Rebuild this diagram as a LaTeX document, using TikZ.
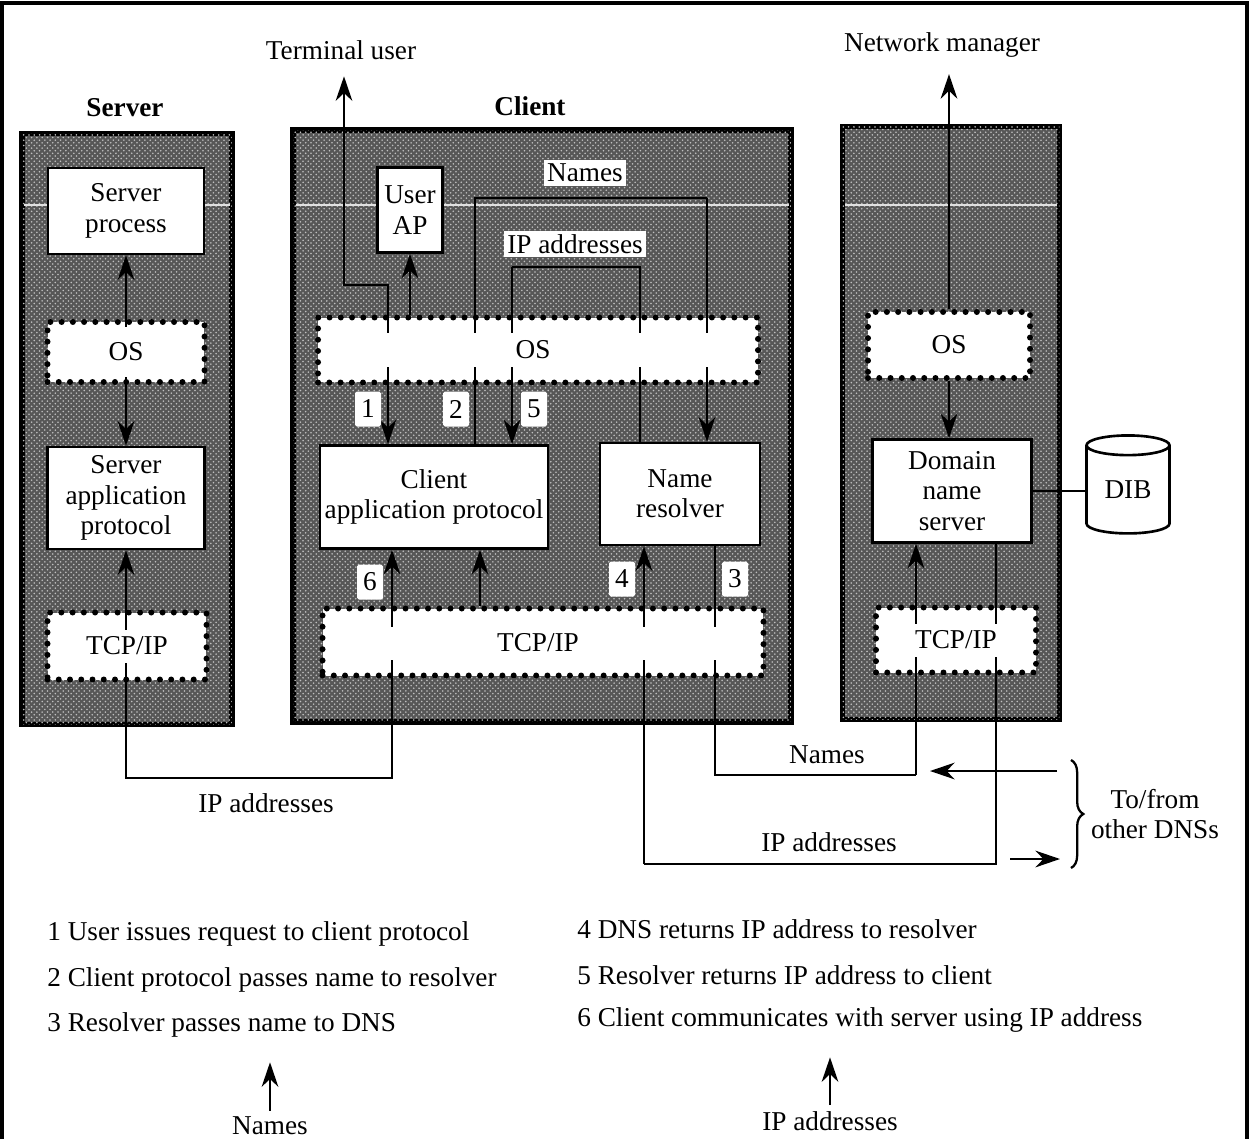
\documentclass[tikz,border=0pt]{standalone}
\usepackage{fontspec}
\setmainfont{Liberation Serif}
\usetikzlibrary{arrows.meta,positioning,calc,patterns,shapes.geometric,decorations.pathreplacing}

\begin{document}
\begin{tikzpicture}[x=0.02cm, y=-0.02cm, >={Stealth[length=14pt,width=9.5pt]},
  every node/.style={font=\fontsize{15.5}{17.3}\selectfont, align=center},
  panel/.style={draw, line width=3.2pt, fill=black!66, postaction={pattern=crosshatch dots, pattern color=white!75!black}},
  whitebox/.style={draw, line width=1.5pt, fill=white, inner sep=0pt},
  dotbox/.style={fill=white, draw, line width=3.4pt, line cap=round, dash pattern=on 0pt off 6.4pt},
  gaptext/.style={fill=white, inner sep=0pt, minimum height=0.66cm},
  numtag/.style={fill=white, inner sep=0pt, minimum width=0.52cm, minimum height=0.7cm, rounded corners=1pt},
  legend/.style={anchor=west, inner sep=0pt},
  wire/.style={line width=1.3pt},
  seam/.style={black!12, line width=0.6pt, shorten >=3pt, shorten <=3pt}]
  \useasboundingbox (0,0) rectangle (1250,1139);
  \draw[line width=2.4pt] (2,1139) -- (2,3) -- (1247,3) -- (1247,1139);

  % shaded blocks
  \node[panel, minimum width=4.2cm, minimum height=11.82cm] (srvpanel) at (127,429) {};
  \node[panel, minimum width=9.96cm, minimum height=11.84cm] (clipanel) at (542,426) {};
  \node[panel, minimum width=4.34cm, minimum height=11.86cm] (dnspanel) at (951,423) {};
  \draw[seam] (srvpanel.west |- 0,205) -- (srvpanel.east |- 0,205);
  \draw[seam] (clipanel.west |- 0,205) -- (clipanel.east |- 0,205);
  \draw[seam] (dnspanel.west |- 0,205) -- (dnspanel.east |- 0,205);
  \node[font=\fontsize{15.5}{17.3}\selectfont\bfseries] (srvtitle) at (125,108) {Server};
  \node[font=\fontsize{15.5}{17.3}\selectfont\bfseries] (clititle) at (530,106) {Client};

  % server
  \node[whitebox, minimum width=3.12cm, minimum height=1.72cm] (srvproc) at (126,211) {Server\\process};
  \node[dotbox, minimum width=3.14cm, minimum height=1.2cm] (srvos) at (126,352) {};
  \node[whitebox, minimum width=3.14cm, minimum height=2.04cm] (srvapp) at (126,498) {Server\\application\\protocol};
  \node[dotbox, minimum width=3.18cm, minimum height=1.34cm] (srvtcp) at (127,646) {};

  % client
  \node[whitebox, minimum width=1.3cm, minimum height=1.7cm] (userap) at (410,210) {User\\AP};
  \node[dotbox, minimum width=8.8cm, minimum height=1.3cm] (clios) at (538,350) {};
  \node[whitebox, minimum width=4.56cm, minimum height=2.06cm] (cliapp) at (434,497) {Client\\application protocol};
  \node[whitebox, minimum width=3.2cm, minimum height=2.04cm] (resolver) at (680,494) {Name\\resolver};
  \node[dotbox, minimum width=8.82cm, minimum height=1.34cm] (clitcp) at (543,642) {};

  % dns
  \node[dotbox, minimum width=3.24cm, minimum height=1.32cm] (dnsos) at (949,345) {};
  \node[whitebox, minimum width=3.18cm, minimum height=2.06cm] (dnsserver) at (952,491) {Domain\\name\\server};
  \node[dotbox, minimum width=3.2cm, minimum height=1.3cm] (dnstcp) at (956,640) {};
  \node[cylinder, shape border rotate=90, aspect=0.42, draw, line width=1.5pt, fill=white,
    minimum width=1.66cm, minimum height=1.96cm, inner sep=0pt] (dib) at (1128,490) {DIB};

  % outside labels
  \node (termuser) at (341,50) {Terminal user};
  \node (netman) at (942,45) {Network manager};
  \node[fill=white, inner sep=2pt] (namestag) at (585,173) {Names};
  \node[fill=white, inner sep=2pt] (iptag) at (575,244) {IP addresses};
  \node (namesrow) at (827,755) {Names};
  \node (iprow) at (829,842) {IP addresses};
  \node (ipsrv) at (266,803) {IP addresses};
  \node (tofrom) at (1155,814) {To/from\\other DNSs};

  % wire columns and rows
  \coordinate (xterm) at (344,0);
  \coordinate (xone) at (388,0);
  \coordinate (xap) at (410,0);
  \coordinate (xsix) at (392,0);
  \coordinate (xtwo) at (475,0);
  \coordinate (xfive) at (512,0);
  \coordinate (xup) at (480,0);
  \coordinate (xfour) at (644,0);
  \coordinate (xres) at (640,0);
  \coordinate (xnames) at (707,0);
  \coordinate (xthree) at (715,0);
  \coordinate (xdnsup) at (916,0);
  \coordinate (xdnsdown) at (996,0);
  \coordinate (yterm) at (0,285);
  \coordinate (ynames) at (0,198);
  \coordinate (yip) at (0,267);
  \coordinate (ysrv) at (0,778);
  \coordinate (yname) at (0,775);
  \coordinate (yaddr) at (0,864);
  \coordinate (inright) at (1057,771);
  \coordinate (inleft) at (930,771);
  \coordinate (outleft) at (1010,859);
  \coordinate (outright) at (1060,859);
  \coordinate (bracetop) at (1071,760);
  \coordinate (bracebot) at (1071,868);

  % wires
  \draw[wire, <->] (srvproc.south) -- (srvapp.north);
  \draw[wire, <->] (srvapp.south) |- (xsix |- ysrv) -- (xsix |- cliapp.south);
  \draw[wire, ->, shorten >=6pt] (xone |- clios.south) -- (xone |- yterm) -- (xterm |- yterm) -- (xterm |- termuser.south);
  \draw[wire, ->] (xone |- clios.south) -- (xone |- cliapp.north);
  \draw[wire, ->] (xap |- clios.north) -- (xap |- userap.south);
  \draw[wire] (xtwo |- cliapp.north) -- (xtwo |- ynames) -- (xnames |- ynames);
  \draw[wire, ->] (xnames |- ynames) -- (xnames |- resolver.north);
  \draw[wire] (xres |- resolver.north) -- (xres |- yip) -- (xfive |- yip);
  \draw[wire, ->] (xfive |- yip) -- (xfive |- cliapp.north);
  \draw[wire, ->] (xup |- clitcp.north) -- (xup |- cliapp.south);
  \draw[wire, ->] (xfour |- yaddr) -- (xfour |- resolver.south);
  \draw[wire] (xfour |- yaddr) -- (xdnsdown |- yaddr) -- (xdnsdown |- dnsserver.south);
  \draw[wire] (xthree |- resolver.south) -- (xthree |- yname) -- (xdnsup |- yname);
  \draw[wire, ->] (xdnsup |- yname) -- (xdnsup |- dnsserver.south);
  \draw[wire, ->, shorten >=6pt] (dnsos.north) -- (dnsos.north |- netman.south);
  \draw[wire, ->] (dnsos.south) -- (dnsos.south |- dnsserver.north);
  \draw[wire] (dnsserver.east) -- (dib.west |- dnsserver.east);
  \draw[wire, ->] (inright) -- (inleft);
  \draw[wire, ->] (outleft) -- (outright);
  \draw[wire, decorate, decoration={brace, amplitude=7pt}] (bracetop) -- (bracebot);

  % text over the wires
  \node[gaptext, minimum width=3.0cm, minimum height=1.0cm] (srvoslabel) at (srvos) {OS};
  \node[gaptext, minimum width=3.0cm] (srvtcplabel) at (srvtcp) {TCP/IP};
  \node[gaptext, minimum width=8.3cm, minimum height=0.68cm] (clioslabel) at (533,350) {OS};
  \node[gaptext, minimum width=8.3cm] (clitcplabel) at (538,643) {TCP/IP};
  \node[gaptext, minimum width=3.0cm, minimum height=1.0cm] (dnsoslabel) at (dnsos) {OS};
  \node[gaptext, minimum width=3.0cm] (dnstcplabel) at (dnstcp) {TCP/IP};

  % step numbers
  \node[numtag] (tagone) at (368,409) {1};
  \node[numtag] (tagtwo) at (456,409) {2};
  \node[numtag] (tagfive) at (534,409) {5};
  \node[numtag] (tagsix) at (370,582) {6};
  \node[numtag] (tagfour) at (622,579) {4};
  \node[numtag] (tagthree) at (735,579) {3};

  % legend
  \node[legend] (legone) at (47,934) {1 User issues request to client protocol};
  \node[legend] (legtwo) at (47,980) {2 Client protocol passes name to resolver};
  \node[legend] (legthree) at (47,1025) {3 Resolver passes name to DNS};
  \node[legend] (legfour) at (577,929) {4 DNS returns IP address to resolver};
  \node[legend] (legfive) at (577,975) {5 Resolver returns IP address to client};
  \node[legend] (legsix) at (577,1020) {6 Client communicates with server using IP address};
  \node (namesfoot) at (270,1126) {Names};
  \node (ipfoot) at (830,1121) {IP addresses};
  \draw[wire, ->, shorten >=14pt] (namesfoot.north) -- (namesfoot.north |- legthree.south);
  \draw[wire, ->, shorten >=14pt] (ipfoot.north) -- (ipfoot.north |- legsix.south);
\end{tikzpicture}
\end{document}
